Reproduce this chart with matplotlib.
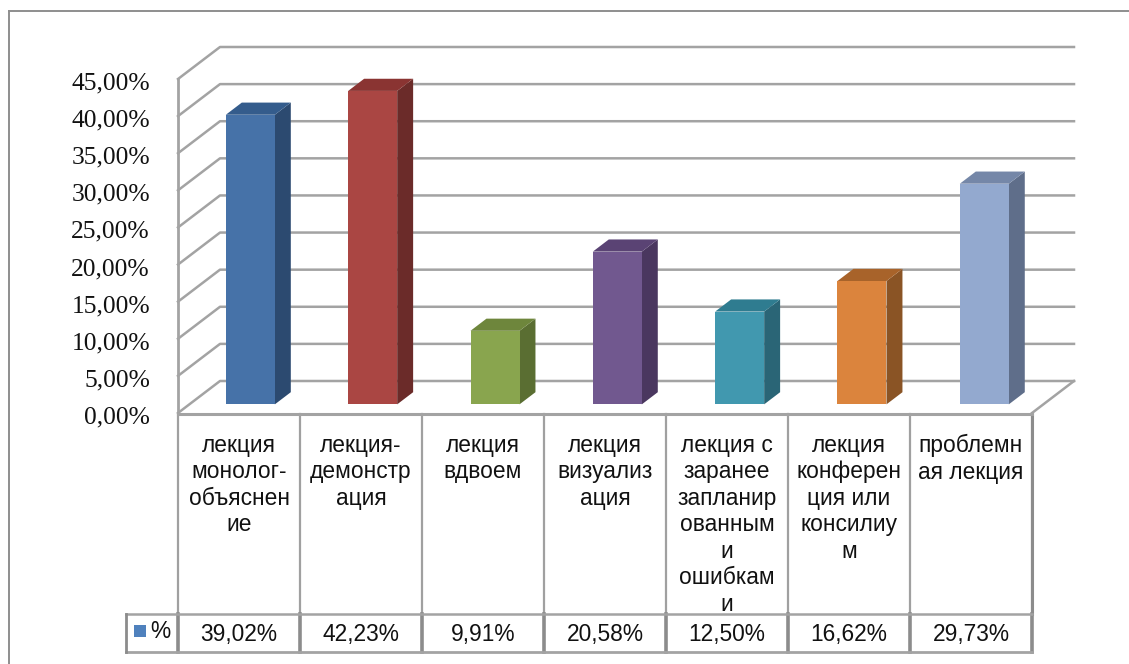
import matplotlib
matplotlib.use("Agg")
import matplotlib.pyplot as plt
from matplotlib.patches import Polygon, Rectangle
from matplotlib.transforms import Affine2D, blended_transform_factory

categories = ["лекция\nмонолог-\nобъяснен\nие", "лекция-\nдемонстр\nация", "лекция\nвдвоем",
              "лекция\nвизуализ\nация", "лекция с\nзаранее\nзапланир\nованным\nи\nошибкам\nи",
              "лекция\nконферен\nция или\nконсилиу\nм", "проблемн\nая лекция"]
values = [39.02, 42.23, 9.91, 20.58, 12.50, 16.62, 29.73]
value_labels = ["39,02%", "42,23%", "9,91%", "20,58%", "12,50%", "16,62%", "29,73%"]
y_ticks = [0, 5, 10, 15, 20, 25, 30, 35, 40, 45]
y_tick_labels = ["0,00%", "5,00%", "10,00%", "15,00%", "20,00%", "25,00%", "30,00%", "35,00%", "40,00%", "45,00%"]
front_colors = ["#4672A8", "#AA4643", "#89A54E", "#71588F", "#4198AF", "#DB843D", "#93A9CF"]
top_colors = ["#345C8C", "#8A3432", "#6E863C", "#5A4374", "#2F7C90", "#A8632A", "#7587A8"]
side_colors = ["#2C4A70", "#6B2B29", "#5A6E32", "#4A375F", "#2A6576", "#8A5425", "#5F6E8A"]

W, H = 1129, 664
grid = "#A3A3A3"
table = "#8C8C8C"

fig = plt.figure(figsize=(W / 100, H / 100), dpi=100)
ax = fig.add_axes([178 / W, 1 - 413 / H, (1032 - 178) / W, (413 - 79) / H])
ax.set_xlim(0, 7)
ax.set_ylim(0, 45)
ax.axis("off")

# pixel coords, y going down like in the picture
px = Affine2D().scale(1, -1).translate(0, H)
x_px = blended_transform_factory(ax.transData, px)

# oblique depth in data units
ux = (1032 - 178) / 7
uy = (413 - 79) / 45
depth_x = 42 / ux
depth_y = 32 / uy

# floor and walls
for t in y_ticks:
    ax.plot([0, depth_x, 7 + depth_x], [t, t + depth_y, t + depth_y], color=grid, lw=1.8, clip_on=False, zorder=1)
ax.plot([0, 0], [0, 45], color=grid, lw=2, clip_on=False, zorder=1)
ax.plot([7, 7 + depth_x], [0, depth_y], color=grid, lw=1.8, clip_on=False, zorder=1)

# bars
bar_w = 49 / ux
pitch = 122.33 / ux
d0 = 0.27
d1 = 0.65
for i, v in enumerate(values):
    x0 = 0.5 + i * pitch - bar_w / 2 + d0 * depth_x
    x1 = x0 + bar_w
    y0 = d0 * depth_y
    y1 = y0 + v
    ddx = (d1 - d0) * depth_x
    ddy = (d1 - d0) * depth_y
    ax.add_patch(Polygon([(x1, y0), (x1 + ddx, y0 + ddy), (x1 + ddx, y1 + ddy), (x1, y1)],
                         fc=side_colors[i], ec="none", clip_on=False, zorder=3))
    ax.add_patch(Polygon([(x0, y1), (x1, y1), (x1 + ddx, y1 + ddy), (x0 + ddx, y1 + ddy)],
                         fc=top_colors[i], ec="none", clip_on=False, zorder=3))
    ax.add_patch(Rectangle((x0, y0), bar_w, v, fc=front_colors[i], ec="none", clip_on=False, zorder=4))

# y labels
for t, lab in zip(y_ticks, y_tick_labels):
    ax.text(-28 / ux, t - 4.5 / uy, lab, ha="right", va="center", family="Liberation Serif", fontsize=18.4,
            color="#111111", clip_on=False)

# data table
top, mid, bottom = 414, 614, 652
for i in range(8):
    ax.plot([i, i], [top, mid], transform=x_px, color="#A0A0A0", lw=1.6, clip_on=False)
    ax.plot([i, i], [mid, bottom], transform=x_px, color=table, lw=2.6, clip_on=False)
ax.plot([7, 7], [top, mid], transform=x_px, color=table, lw=2.2, clip_on=False)
ax.plot([0, 7], [top, top], transform=x_px, color=grid, lw=2.2, clip_on=False)
left = -52 / ux
ax.plot([left, 7], [mid, mid], transform=x_px, color=grid, lw=1.8, clip_on=False)
ax.plot([left, 7], [bottom, bottom], transform=x_px, color=grid, lw=2, clip_on=False)
ax.plot([left, left], [mid, bottom], transform=x_px, color=table, lw=2, clip_on=False)

for i, (c, lab) in enumerate(zip(categories, value_labels)):
    ax.text(i + 0.5, 434, c, transform=x_px, ha="center", va="top", family="Liberation Sans",
            fontsize=16.4, linespacing=1.19, color="#111111")
    ax.text(i + 0.5, 634, lab, transform=x_px, ha="center", va="center", family="Liberation Sans",
            fontsize=16.4, color="#111111")
ax.text(150, 632, "%", transform=px, ha="left", va="center", family="Liberation Sans", fontsize=16.4, color="#111111")
fig.add_artist(Rectangle((134, 625), 12, 12, transform=px, fc="#4F81BD", ec="none"))

# outer frame, open on the right
for xs, ys in [([8.5, 8.5], [10.5, 664]), ([8.5, 1129], [10.5, 10.5])]:
    fig.add_artist(plt.Line2D(xs, ys, transform=px, color="#8E8E8E", lw=1.4))

fig.savefig("out.png", dpi=100)
